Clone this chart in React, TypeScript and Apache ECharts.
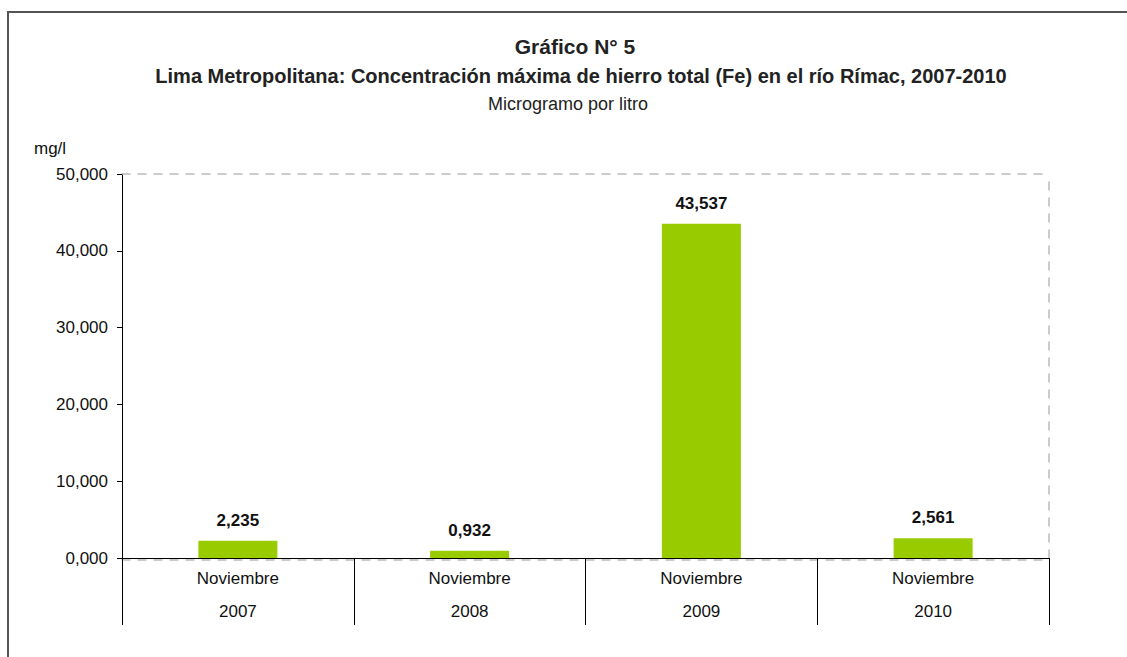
import React, { useEffect, useRef } from "react";
import * as echarts from "echarts";

const categories = ["2007", "2008", "2009", "2010"];
const monthLabel = "Noviembre";
const values = [2.235, 0.932, 43.537, 2.561];
const titleLines = [
  "Gráfico N° 5",
  "Lima Metropolitana: Concentración máxima de hierro total (Fe) en el río Rímac, 2007-2010",
  "Microgramo por litro",
];
const unitLabel = "mg/l";

const fmt = (v: number) => v.toFixed(3).replace(".", ",");

export default function App() {
  const ref = useRef<HTMLDivElement>(null);
  useEffect(() => {
    if (!ref.current) return;
    const chart = echarts.init(ref.current, null, { renderer: "svg" });
    const sans = "'Liberation Sans', Arial, sans-serif";
    const dashed = { color: "#bbb", type: [8, 8], width: 1.5 };
    chart.setOption({
      animation: false,
      backgroundColor: "#fff",
      title: [
        { text: titleLines[0], left: 570, top: 31, textAlign: "center", textStyle: { fontFamily: sans, fontSize: 21, fontWeight: "bold", color: "#222" } },
        { text: titleLines[1], left: 576, top: 61, textAlign: "center", textStyle: { fontFamily: sans, fontSize: 20, fontWeight: "bold", color: "#222" } },
        { text: titleLines[2], left: 563, top: 90, textAlign: "center", textStyle: { fontFamily: sans, fontSize: 18, fontWeight: "normal", color: "#222" } },
      ],
      graphic: [
        { type: "polyline", shape: { points: [[8, 700], [8, 12], [1200, 12]] }, style: { fill: "none", stroke: "#555", lineWidth: 2 }, z: 100 },
        { type: "text", left: 34, top: 140, style: { text: unitLabel, font: `17px ${sans}`, fill: "#111" } },
      ],
      grid: { left: 122, right: 78, top: 174, bottom: 99, containLabel: false },
      xAxis: [
        {
          type: "category",
          data: categories,
          position: "bottom",
          z: 5,
          axisLine: { onZero: false, lineStyle: { color: "#000", width: 1 } },
          axisTick: { show: true, length: 67, interval: 0, lineStyle: { color: "#000" } },
          axisLabel: {
            interval: 0,
            margin: 4,
            lineHeight: 33,
            fontFamily: sans,
            fontSize: 17,
            color: "#111",
            formatter: (v: string) => `${monthLabel}\n${v}`,
          },
        },
        {
          type: "category",
          data: categories,
          position: "top",
          axisLine: { onZero: false, lineStyle: dashed },
          axisTick: { show: false },
          axisLabel: { show: false },
        },
        {
          type: "category",
          data: categories,
          position: "bottom",
          offset: 1.5,
          z: 1,
          axisLine: { onZero: false, lineStyle: dashed },
          axisTick: { show: false },
          axisLabel: { show: false },
        },
      ],
      yAxis: [
        {
          type: "value",
          min: 0,
          max: 50,
          interval: 10,
          position: "left",
          axisLine: { show: true, onZero: false, lineStyle: { color: "#000" } },
          axisTick: { show: true, length: 5, lineStyle: { color: "#000" } },
          splitLine: { show: false },
          axisLabel: { margin: 14, fontFamily: sans, fontSize: 17, color: "#111", formatter: (v: number) => fmt(v) },
        },
        {
          type: "value",
          min: 0,
          max: 50,
          interval: 10,
          position: "right",
          axisLine: { show: true, onZero: false, lineStyle: dashed },
          axisTick: { show: false },
          splitLine: { show: false },
          axisLabel: { show: false },
        },
      ],
      series: [
        {
          type: "bar",
          data: values,
          xAxisIndex: 0,
          yAxisIndex: 0,
          barWidth: 79,
          itemStyle: { color: "#99CC00" },
          label: {
            show: true,
            position: "top",
            distance: 12,
            fontFamily: sans,
            fontSize: 17,
            fontWeight: "bold",
            color: "#111",
            formatter: (p: any) => fmt(p.value),
          },
        },
      ],
    });
    return () => chart.dispose();
  }, []);
  return <div ref={ref} style={{ position: "fixed", left: 0, top: 0, width: 1127, height: 657 }} />;
}
